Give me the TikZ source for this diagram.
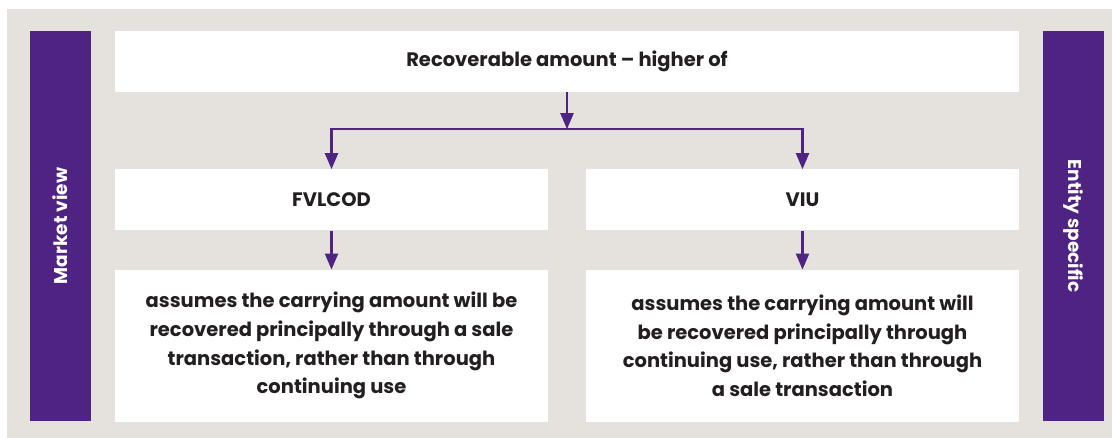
\documentclass[tikz,border=0pt]{standalone}
\usepackage{fontspec}
\setmainfont{Poppins}
\usepackage{tikz}
\usetikzlibrary{positioning,arrows.meta}
\definecolor{bggrey}{HTML}{E5E2DE}
\definecolor{deeppurple}{HTML}{4F2382}
\definecolor{inkblack}{HTML}{231F20}

\begin{document}
\begin{tikzpicture}[x=1pt, y=1pt,
        whitebox/.style={rectangle, fill=white, inner sep=0pt, text=inkblack, font=\fontsize{19.5}{28.7}\selectfont\bfseries, align=center},
        sidebar/.style={rectangle, fill=deeppurple, inner sep=0pt, minimum width=61pt, minimum height=390pt, text=white, font=\fontsize{18.5}{20}\selectfont\bfseries},
        flowarrow/.style={draw=deeppurple, line width=2.2pt, -{Triangle[length=16pt, width=13pt]}}]

        \useasboundingbox (0,0) rectangle (1112,-438);
        \fill[bggrey] (7,-9) rectangle (1112,-438);

        \node[whitebox, minimum width=904pt, minimum height=61pt] (top) at (567,-61.5) {Recoverable amount – higher of};
        \node[whitebox, minimum width=433pt, minimum height=61pt] (fvlcod) [below right=77pt and 0pt of top.south west] {FVLCOD};
        \node[whitebox, minimum width=433pt, minimum height=61pt] (viu) [below left=77pt and 0pt of top.south east] {VIU};
        \node[whitebox, minimum width=433pt, minimum height=152pt] (fvlcodtxt) [below=39pt of fvlcod] {assumes the carrying amount will be\\recovered principally through a sale\\transaction, rather than through\\continuing use};
        \node[whitebox, minimum width=433pt, minimum height=152pt] (viutxt) [below=39pt of viu] {assumes the carrying amount will\\be recovered principally through\\continuing use, rather than through\\a sale transaction};
        \node[sidebar] (market) [below left=0pt and 24pt of top.north west] {\rotatebox{90}{Market view}};
        \node[sidebar] (entity) [below right=0pt and 24pt of top.north east] {\rotatebox{-90}{Entity specific}};

        \coordinate[below=37pt of top.south] (fork);
        \draw[flowarrow] (top.south) -- (fork);
        \draw[flowarrow] (fork) -| (fvlcod.north);
        \draw[flowarrow] (fork) -| (viu.north);
        \draw[flowarrow] (fvlcod) -- (fvlcodtxt);
        \draw[flowarrow] (viu) -- (viutxt);

\end{tikzpicture}
\end{document}
